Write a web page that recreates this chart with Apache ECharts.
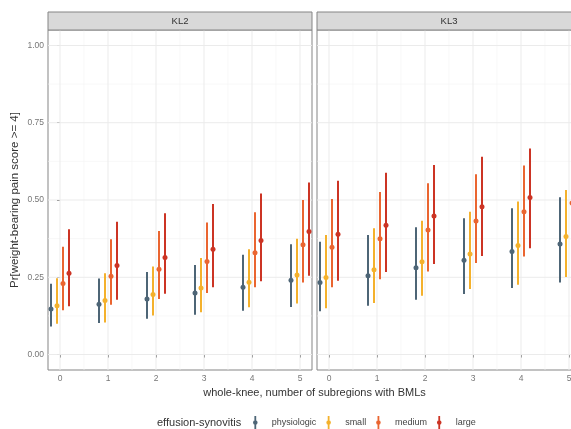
<!DOCTYPE html>
<html>
<head>
<meta charset="utf-8">
<script src="https://cdn.jsdelivr.net/npm/echarts@6/dist/echarts.min.js"></script>
<style>
  html, body { margin: 0; padding: 0; background: #ffffff; }
  #chart { width: 571px; height: 429px; }
</style>
</head>
<body>
<div id="chart"></div>
<script>
// Number of subregions with bone marrow lesions (x positions)
const bmlCounts = [0, 1, 2, 3, 4, 5];
// Effusion-synovitis grades (one dodged interval per grade)
const effusionLevels = ['physiologic', 'small', 'medium', 'large'];
const levelColors = ['#4d6576', '#f4b12c', '#ea6530', '#cc3424'];
// Facet panels
const panelNames = ['KL2', 'KL3'];
// Y-axis tick labels
const yTicks = [0, 0.25, 0.5, 0.75, 1];

// KL2: estimated probability and 95% interval, rows follow effusionLevels
const kl2Estimate = [
  [0.147, 0.163, 0.180, 0.199, 0.218, 0.240],
  [0.158, 0.175, 0.194, 0.215, 0.234, 0.257],
  [0.230, 0.253, 0.276, 0.301, 0.329, 0.355],
  [0.263, 0.288, 0.314, 0.341, 0.369, 0.398]
];
const kl2Lower = [
  [0.091, 0.102, 0.116, 0.129, 0.142, 0.154],
  [0.100, 0.104, 0.126, 0.137, 0.153, 0.165],
  [0.143, 0.161, 0.180, 0.199, 0.218, 0.233],
  [0.156, 0.177, 0.197, 0.218, 0.237, 0.255]
];
const kl2Upper = [
  [0.229, 0.246, 0.267, 0.290, 0.323, 0.357],
  [0.247, 0.263, 0.285, 0.312, 0.341, 0.375],
  [0.349, 0.373, 0.400, 0.427, 0.460, 0.500],
  [0.405, 0.430, 0.457, 0.487, 0.521, 0.557]
];

// KL3: estimated probability and 95% interval
const kl3Estimate = [
  [0.233, 0.255, 0.281, 0.305, 0.333, 0.358],
  [0.249, 0.274, 0.300, 0.325, 0.353, 0.382],
  [0.347, 0.375, 0.403, 0.432, 0.462, 0.490],
  [0.389, 0.418, 0.448, 0.478, 0.508, 0.538]
];
const kl3Lower = [
  [0.140, 0.158, 0.177, 0.196, 0.215, 0.233],
  [0.150, 0.167, 0.190, 0.212, 0.226, 0.251],
  [0.218, 0.244, 0.269, 0.296, 0.317, 0.340],
  [0.239, 0.267, 0.293, 0.319, 0.344, 0.370]
];
const kl3Upper = [
  [0.365, 0.387, 0.412, 0.441, 0.473, 0.509],
  [0.387, 0.409, 0.433, 0.462, 0.495, 0.532],
  [0.503, 0.526, 0.554, 0.583, 0.612, 0.640],
  [0.562, 0.588, 0.613, 0.640, 0.667, 0.695]
];

const panelData = [
  { est: kl2Estimate, lo: kl2Lower, hi: kl2Upper },
  { est: kl3Estimate, lo: kl3Lower, hi: kl3Upper }
];

const FONT = '"Liberation Sans", Arial, sans-serif';
const DODGE = 0.5;                // total dodge width
const nLevels = effusionLevels.length;
const dodgeOffset = i => (i - (nLevels - 1) / 2) * DODGE / nLevels;

// Panel geometry (the second panel runs past the right edge)
const panelLeft = [48, 317];
const panelTop = 30, panelWidth = 264, panelHeight = 340, stripHeight = 18;

const xMinor = bmlCounts.slice(1).map((v, i) => (v + bmlCounts[i]) / 2);
const yMinor = yTicks.slice(1).map((v, i) => (v + yTicks[i]) / 2);

function renderGridLines(params, api) {
  const cs = params.coordSys;
  const children = [];
  const vline = (v, color, w) => {
    const x = api.coord([v, 0])[0];
    children.push({ type: 'line', shape: { x1: x, y1: cs.y, x2: x, y2: cs.y + cs.height },
      style: { stroke: color, lineWidth: w } });
  };
  const hline = (v, color, w) => {
    const y = api.coord([0, v])[1];
    children.push({ type: 'line', shape: { x1: cs.x, y1: y, x2: cs.x + cs.width, y2: y },
      style: { stroke: color, lineWidth: w } });
  };
  xMinor.forEach(v => vline(v, '#f4f4f4', 0.6));
  yMinor.forEach(v => hline(v, '#f4f4f4', 0.6));
  bmlCounts.forEach(v => vline(v, '#ebebeb', 1));
  yTicks.forEach(v => hline(v, '#ebebeb', 1));
  return { type: 'group', children };
}

function renderInterval(params, api) {
  const x = api.value(0);
  const p0 = api.coord([x, api.value(1)]);
  const p1 = api.coord([x, api.value(2)]);
  const pm = api.coord([x, api.value(3)]);
  const color = api.visual('color');
  return {
    type: 'group',
    children: [
      { type: 'line', shape: { x1: p0[0], y1: p0[1], x2: p1[0], y2: p1[1] },
        style: { stroke: color, lineWidth: 2 } },
      { type: 'circle', shape: { cx: pm[0], cy: pm[1], r: 2.5 },
        style: { fill: color } }
    ]
  };
}

const grids = panelLeft.map(left => ({
  left: left, top: panelTop, width: panelWidth, height: panelHeight,
  outerBoundsMode: 'none', containLabel: false,
  show: true, borderColor: '#858585', borderWidth: 1, backgroundColor: '#ffffff'
}));

const xAxes = panelLeft.map((_, k) => ({
  type: 'value', gridIndex: k, min: -0.25, max: 5.25,
  axisLine: { show: false },
  splitLine: { show: false },
  axisTick: { show: true, customValues: bmlCounts, length: 3, lineStyle: { color: '#555', width: 1 } },
  axisLabel: { customValues: bmlCounts, fontSize: 8.5, color: '#777', margin: 4, fontFamily: FONT }
}));

const yAxes = panelLeft.map((_, k) => ({
  type: 'value', gridIndex: k, min: -0.05, max: 1.05,
  axisLine: { show: false },
  splitLine: { show: false },
  axisTick: { show: k === 0, customValues: yTicks, length: 3, lineStyle: { color: '#555', width: 1 } },
  axisLabel: { show: k === 0, customValues: yTicks, fontSize: 8.5, color: '#777', margin: 4,
    fontFamily: FONT, formatter: v => v.toFixed(2) }
}));

const series = [];
panelLeft.forEach((_, k) => {
  series.push({
    type: 'custom', name: 'grid' + k, xAxisIndex: k, yAxisIndex: k, z: 1,
    silent: true, data: [[0, 0]], renderItem: renderGridLines, clip: true
  });
});
panelData.forEach((pd, k) => {
  effusionLevels.forEach((lvl, i) => {
    series.push({
      type: 'custom', name: lvl, xAxisIndex: k, yAxisIndex: k, z: 3,
      itemStyle: { color: levelColors[i] },
      encode: { x: 0, y: [1, 2, 3] },
      data: bmlCounts.map((b, j) => [b + dodgeOffset(i), pd.lo[i][j], pd.hi[i][j], pd.est[i][j]]),
      renderItem: renderInterval, clip: false
    });
  });
});

const graphics = [];
panelLeft.forEach((left, k) => {
  graphics.push({
    type: 'rect', shape: { x: left, y: panelTop - stripHeight, width: panelWidth, height: stripHeight },
    style: { fill: '#d9d9d9', stroke: '#858585', lineWidth: 1 }, z: 10
  });
  graphics.push({
    type: 'text', x: left + panelWidth / 2, y: panelTop - stripHeight / 2, z: 11,
    style: { text: panelNames[k], fill: '#333', font: '9.5px ' + FONT, align: 'center', verticalAlign: 'middle' }
  });
});
graphics.push({
  type: 'text', x: 15, y: panelTop + panelHeight / 2, rotation: Math.PI / 2, z: 11,
  style: { text: 'Pr[weight-bearing pain score >= 4]', fill: '#333', font: '11.5px ' + FONT,
    align: 'center', verticalAlign: 'middle' }
});
graphics.push({
  type: 'text', x: (panelLeft[0] + panelLeft[1] + panelWidth) / 2, y: 393, z: 11,
  style: { text: 'whole-knee, number of subregions with BMLs', fill: '#333', font: '11px ' + FONT,
    align: 'center', verticalAlign: 'middle' }
});
graphics.push({
  type: 'text', x: 157, y: 423, z: 11,
  style: { text: 'effusion-synovitis', fill: '#333', font: '11px ' + FONT,
    align: 'left', verticalAlign: 'middle' }
});

const chart = echarts.init(document.getElementById('chart'), null, { renderer: 'canvas' });
chart.setOption({
  animation: false,
  backgroundColor: '#ffffff',
  color: levelColors,
  grid: grids,
  xAxis: xAxes,
  yAxis: yAxes,
  legend: {
    left: 248, top: 411, padding: 5,
    itemWidth: 5, itemHeight: 13, itemGap: 10,
    itemStyle: { borderWidth: 0 },
    data: effusionLevels.map((name, i) => ({
      name: name,
      icon: 'path://M1.6,0H3.4V13H1.6Z M0.2,6.5A2.3,2.3 0 1 1 4.8,6.5A2.3,2.3 0 1 1 0.2,6.5Z',
      itemStyle: { color: levelColors[i], borderWidth: 0 }
    })),
    textStyle: { fontSize: 9, color: '#444', fontFamily: FONT, padding: [0, 0, 0, 9] }
  },
  graphic: graphics,
  series: series
});
</script>
</body>
</html>
